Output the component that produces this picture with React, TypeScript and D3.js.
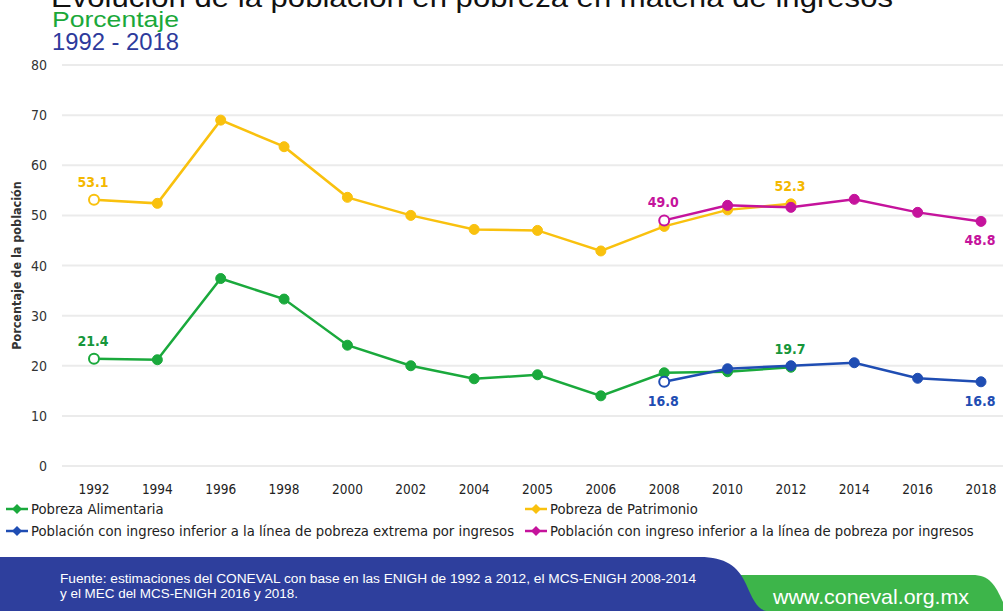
import React from "react";
import * as d3 from "d3";

const years = ["1992","1994","1996","1998","2000","2002","2004","2005","2006","2008","2010","2012","2014","2016","2018"];
const alimentaria: (number | null)[] = [21.4,21.2,37.4,33.3,24.1,20.0,17.4,18.2,14.0,18.6,18.8,19.7,null,null,null];
const patrimonio: (number | null)[] = [53.1,52.4,69.0,63.7,53.6,50.0,47.2,47.0,42.9,47.8,51.1,52.3,null,null,null];
const extrema: (number | null)[] = [null,null,null,null,null,null,null,null,null,16.8,19.4,20.0,20.6,17.5,16.8];
const ingresos: (number | null)[] = [null,null,null,null,null,null,null,null,null,49.0,52.0,51.6,53.2,50.6,48.8];
const yTicks = [0,10,20,30,40,50,60,70,80];

const seriesNames = [
  "Pobreza Alimentaria",
  "Pobreza de Patrimonio",
  "Población con ingreso inferior a la línea de pobreza extrema por ingresos",
  "Población con ingreso inferior a la línea de pobreza por ingresos",
];

// label config: index into series, placement
const alimentariaLabels = [{ i: 0, pos: "above" }, { i: 11, pos: "above" }];
const patrimonioLabels = [{ i: 0, pos: "above" }, { i: 11, pos: "above" }];
const extremaLabels = [{ i: 9, pos: "below" }, { i: 14, pos: "below" }];
const ingresosLabels = [{ i: 9, pos: "above" }, { i: 14, pos: "below" }];

const COLORS = {
  green: "#1aa93c",
  yellow: "#f9c10e",
  blue: "#1f4db3",
  magenta: "#c5139c",
};

const narrow = "'Liberation Sans Narrow', 'DejaVu Sans Condensed', 'Arial Narrow', sans-serif";

export default function App() {
  const x = d3.scalePoint<string>().domain(years).range([94, 981]);
  const y = d3.scaleLinear().domain([0, 80]).range([466, 65]);

  const series = [
    { values: alimentaria, color: COLORS.green, labelColor: "#16963a", labels: alimentariaLabels },
    { values: patrimonio, color: COLORS.yellow, labelColor: "#f4b800", labels: patrimonioLabels },
    { values: extrema, color: COLORS.blue, labelColor: "#1f4db3", labels: extremaLabels },
    { values: ingresos, color: COLORS.magenta, labelColor: "#c5139c", labels: ingresosLabels },
  ];

  const line = d3
    .line<number | null>()
    .defined((d) => d !== null)
    .x((_, i) => x(years[i]) as number)
    .y((d) => y(d as number));

  const legendItems = [
    { name: seriesNames[0], color: COLORS.green, lx: 6, ly: 509 },
    { name: seriesNames[1], color: COLORS.yellow, lx: 525, ly: 509 },
    { name: seriesNames[2], color: COLORS.blue, lx: 6, ly: 531 },
    { name: seriesNames[3], color: COLORS.magenta, lx: 525, ly: 531 },
  ];

  return (
    <div style={{ position: "fixed", left: 0, top: 0 }}>
      <svg width={1003} height={611} style={{ display: "block", background: "#fff" }}>
        {/* Title (cropped) */}
        <text x={51} y={7} fontFamily="Arial, 'Liberation Sans', sans-serif" fontSize={28} fill="#111" textLength={842} lengthAdjust="spacingAndGlyphs">
          Evolución de la población en pobreza en materia de ingresos
        </text>
        <text x={52} y={27} fontFamily="Arial, 'Liberation Sans', sans-serif" fontSize={22} fill="#1aa83a" textLength={127} lengthAdjust="spacingAndGlyphs">
          Porcentaje
        </text>
        <text x={52} y={50} fontFamily="Arial, 'Liberation Sans', sans-serif" fontSize={23} fill="#2d3a9c" textLength={127} lengthAdjust="spacingAndGlyphs">
          1992 - 2018
        </text>

        {/* Grid */}
        {yTicks.map((t) => (
          <g key={t}>
            <line x1={62} x2={1003} y1={y(t)} y2={y(t)} stroke="#ebebeb" strokeWidth={2} />
            <text x={47} y={y(t) + 5} textAnchor="end" fontFamily={narrow} fontSize={14} fill="#333">
              {t}
            </text>
          </g>
        ))}

        {/* Y axis title */}
        <text
          transform={`translate(21, ${(y(0) + y(80)) / 2}) rotate(-90)`}
          textAnchor="middle"
          fontFamily={narrow}
          fontSize={12.5}
          fontWeight="bold"
          fill="#333"
        >
          Porcentaje de la población
        </text>

        {/* X ticks */}
        {years.map((yr) => (
          <text key={yr} x={x(yr)} y={494} textAnchor="middle" fontFamily={narrow} fontSize={13.5} fill="#222">
            {yr}
          </text>
        ))}

        {/* Series */}
        {series.map((s, si) => {
          const firstIdx = s.values.findIndex((v) => v !== null);
          return (
            <g key={si}>
              <path d={line(s.values) || ""} fill="none" stroke={s.color} strokeWidth={2.5} />
              {s.values.map((v, i) =>
                v === null ? null : (
                  <circle
                    key={i}
                    cx={x(years[i])}
                    cy={y(v)}
                    r={5}
                    fill={i === firstIdx ? "#fff" : s.color}
                    stroke={s.color}
                    strokeWidth={i === firstIdx ? 2 : 1}
                  />
                )
              )}
            </g>
          );
        })}

        {/* Data labels */}
        {series.map((s, si) =>
          s.labels.map((l, k) => {
            const v = s.values[l.i] as number;
            const cx = x(years[l.i]) as number;
            const cy = y(v);
            const ty = l.pos === "above" ? cy - 13 : cy + 24;
            return (
              <text
                key={`${si}-${k}`}
                x={cx - 1}
                y={ty}
                textAnchor="middle"
                fontFamily={narrow}
                fontSize={14}
                fontWeight="bold"
                fill={s.labelColor}
              >
                {v.toFixed(1)}
              </text>
            );
          })
        )}

        {/* Legend */}
        {legendItems.map((it) => (
          <g key={it.name}>
            <line x1={it.lx} x2={it.lx + 22} y1={it.ly} y2={it.ly} stroke={it.color} strokeWidth={2.5} />
            <path
              d={`M${it.lx + 11},${it.ly - 5} L${it.lx + 16},${it.ly} L${it.lx + 11},${it.ly + 5} L${it.lx + 6},${it.ly} Z`}
              fill={it.color}
            />
            <text x={it.lx + 25} y={it.ly + 5} fontFamily={narrow} fontSize={14.7} fill="#222">
              {it.name}
            </text>
          </g>
        ))}

        {/* Footer */}
        <path d="M730,611 L730,575 L972,575 C990,575 995,585 1003,602 L1003,611 Z" fill="#3db54a" />
        <path d="M0,557 L700,557 C725,557 738,566 746,584 C753,600 758,611 768,611 L0,611 Z" fill="#2e3f9d" />
        <text x={60} y={583} fontFamily="Arial, 'Liberation Sans', sans-serif" fontSize={12.5} fill="#fff" textLength={636} lengthAdjust="spacingAndGlyphs">
          Fuente: estimaciones del CONEVAL con base en las ENIGH de 1992 a 2012, el MCS-ENIGH 2008-2014
        </text>
        <text x={60} y={598} fontFamily="Arial, 'Liberation Sans', sans-serif" fontSize={12.5} fill="#fff" textLength={238} lengthAdjust="spacingAndGlyphs">
          y el MEC del MCS-ENIGH 2016 y 2018.
        </text>
        <text x={773} y={604} fontFamily="Arial, 'Liberation Sans', sans-serif" fontSize={21} fill="#fff" textLength={196} lengthAdjust="spacingAndGlyphs">
          www.coneval.org.mx
        </text>
      </svg>
    </div>
  );
}
